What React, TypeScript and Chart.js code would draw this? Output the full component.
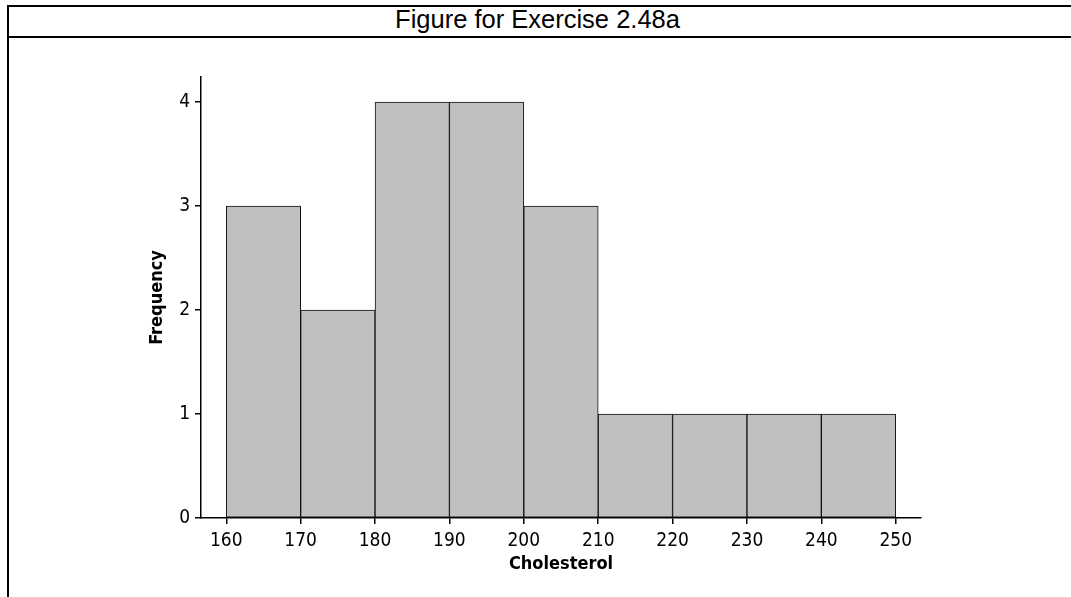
import React, { useEffect, useRef } from "react";
import { Chart, registerables } from "chart.js";

Chart.register(...registerables);

const titleText = "Figure for Exercise 2.48a";
const xTitle = "Cholesterol";
const yTitle = "Frequency";
const binStarts = [160, 170, 180, 190, 200, 210, 220, 230, 240];
const binWidth = 10;
const frequencies = [3, 2, 4, 4, 3, 1, 1, 1, 1];
const xTickValues = [160, 170, 180, 190, 200, 210, 220, 230, 240, 250];
const yTickValues = [0, 1, 2, 3, 4];
const xMin = 156.6;
const xMax = 253.4;
const yMax = 4.24;

const tickFont = '"DejaVu Sans Condensed", "DejaVu Sans", sans-serif';

export default function App() {
  const canvasRef = useRef<HTMLCanvasElement | null>(null);

  useEffect(() => {
    const canvas = canvasRef.current;
    if (!canvas) return;
    const points = binStarts.map((s, i) => ({ x: s + binWidth / 2, y: frequencies[i] }));
    const chart = new Chart(canvas, {
      type: "bar",
      data: {
        datasets: [
          {
            data: points as any,
            backgroundColor: "#c0c0c0",
            borderColor: "#111",
            borderWidth: 1,
            borderSkipped: false,
            barPercentage: 1,
            categoryPercentage: 1,
          },
        ],
      },
      options: {
        responsive: false,
        animation: false,
        events: [],
        layout: { padding: { left: 139, top: 77, right: 150, bottom: 0 } },
        plugins: { legend: { display: false }, tooltip: { enabled: false }, title: { display: false } },
        scales: {
          x: {
            type: "linear",
            min: xMin,
            max: xMax,
            offset: false,
            afterFit: (s: any) => {
              s.height = 79;
            },
            afterBuildTicks: (s: any) => {
              s.ticks = xTickValues.map((v) => ({ value: v }));
            },
            grid: {
              offset: false,
              drawOnChartArea: false,
              drawTicks: true,
              tickLength: 6,
              color: "#000",
              lineWidth: 1.5,
            },
            border: { display: true, color: "#000", width: 1.5 },
            ticks: {
              color: "#000",
              padding: 6,
              maxRotation: 0,
              autoSkip: false,
              font: { family: tickFont, size: 19 },
            },
            title: {
              display: true,
              text: xTitle,
              color: "#000",
              font: { family: tickFont, size: 18, weight: "bold" },
              padding: { top: 0, bottom: 22 },
            },
          },
          y: {
            type: "linear",
            min: 0,
            max: yMax,
            afterFit: (s: any) => {
              s.width = 62;
            },
            afterBuildTicks: (s: any) => {
              s.ticks = yTickValues.map((v) => ({ value: v }));
            },
            grid: {
              drawOnChartArea: false,
              drawTicks: true,
              tickLength: 6,
              color: "#000",
              lineWidth: 1.5,
            },
            border: { display: true, color: "#000", width: 1.5 },
            ticks: {
              color: "#000",
              padding: 5,
              font: { family: tickFont, size: 19 },
            },
            title: {
              display: true,
              text: yTitle,
              color: "#000",
              font: { family: tickFont, size: 18, weight: "bold" },
              padding: { top: 8, bottom: 0 },
            },
          },
        },
      },
    });
    return () => chart.destroy();
  }, []);

  return (
    <div style={{ position: "fixed", left: 0, top: 0, width: 1071, height: 597, overflow: "hidden", background: "#fff" }}>
      <div
        style={{
          position: "absolute",
          left: 7,
          top: 5,
          width: 1200,
          height: 800,
          borderTop: "2px solid #000",
          borderLeft: "2px solid #000",
          boxSizing: "border-box",
        }}
      />
      <div style={{ position: "absolute", left: 7, top: 36, width: 1200, height: 2, background: "#000" }} />
      <div
        style={{
          position: "absolute",
          left: 537.5,
          top: 7,
          transform: "translateX(-50%)",
          whiteSpace: "nowrap",
          fontFamily: '"Liberation Sans", Arial, sans-serif',
          fontSize: 25.5,
          lineHeight: "25px",
          color: "#000",
        }}
      >
        {titleText}
      </div>
      <canvas ref={canvasRef} width={1071} height={597} style={{ position: "absolute", left: 0, top: 0 }} />
    </div>
  );
}
